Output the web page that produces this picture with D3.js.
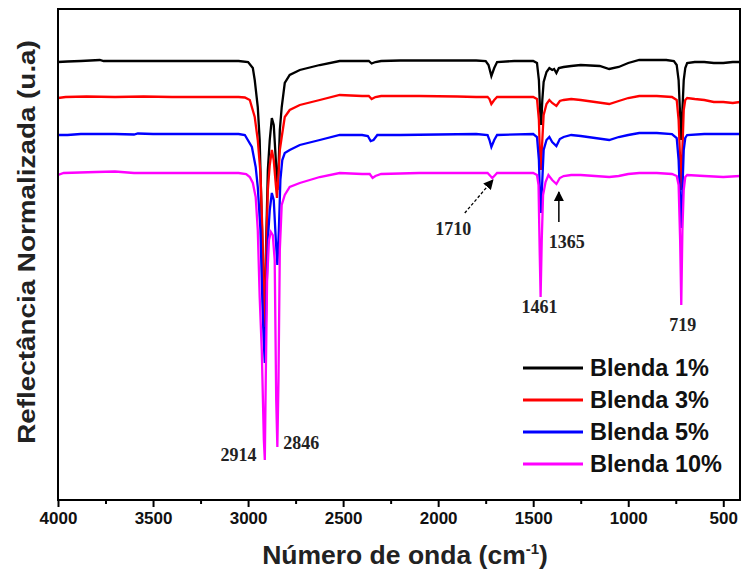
<!DOCTYPE html>
<html>
<head>
<meta charset="utf-8">
<script src="https://cdn.jsdelivr.net/npm/d3@7"></script>
<style>
  html, body { margin: 0; padding: 0; background: #fff; }
  svg { display: block; }
</style>
</head>
<body>
<svg id="chart" width="742" height="583"></svg>
<script>
// ---- Data (wavenumber cm-1, normalized reflectance in arbitrary units) ----
const seriesNames = ["Blenda 1%", "Blenda 3%", "Blenda 5%", "Blenda 10%"];
const seriesColors = ["#000000", "#ff0000", "#0000ff", "#ff00ff"];

const blenda1 = [
  [4000,87.6],[3950,87.7],[3880,87.8],[3780,88.0],[3760,87.8],[3600,87.8],[3400,87.8],[3200,87.8],[3050,87.8],[3000,87.6],
  [2975,86.4],[2965,84.0],[2949,78.6],[2939,72.0],[2928,56.0],[2917,40.0],[2912,34.0],[2907,48.0],[2896,66.0],[2886,72.0],
  [2875,76.4],[2865,75.0],[2854,68.0],[2846,62.0],[2840,66.0],[2833,74.0],[2823,78.6],[2807,83.4],[2781,85.0],[2728,86.0],
  [2623,87.0],[2518,87.8],[2400,87.8],[2365,87.8],[2350,87.3],[2330,87.6],[2300,87.8],[2200,87.9],[2000,87.9],[1900,87.9],
  [1800,87.9],[1750,87.8],[1735,87.0],[1720,84.8],[1705,86.4],[1690,87.6],[1600,87.8],[1500,87.8],[1480,87.4],[1470,84.0],
  [1464,78.0],[1458,75.0],[1452,80.0],[1445,83.6],[1430,85.6],[1415,86.4],[1400,86.0],[1390,86.2],[1378,85.4],[1365,86.4],
  [1340,86.6],[1300,86.8],[1250,87.0],[1150,86.8],[1100,86.2],[1050,86.6],[1000,87.4],[942,88.0],[850,88.0],[800,88.0],
  [760,87.8],[745,87.0],[735,84.0],[727,77.0],[721,72.0],[715,78.0],[708,84.0],[700,86.4],[690,87.4],[650,87.6],
  [600,87.6],[550,87.4],[500,87.4],[450,87.6],[412,87.6]
];
const blenda3 = [
  [4000,80.4],[3960,80.6],[3850,80.7],[3700,80.6],[3550,80.7],[3400,80.6],[3200,80.6],[3050,80.6],[3017,80.5],[2991,80.0],
  [2965,76.6],[2949,72.0],[2935,65.4],[2925,54.0],[2918,40.0],[2912,34.6],[2906,48.0],[2896,62.0],[2886,67.0],[2875,70.0],
  [2865,68.0],[2854,63.0],[2848,60.4],[2840,65.0],[2833,70.0],[2823,72.6],[2807,76.6],[2781,78.0],[2728,79.0],[2623,80.0],
  [2518,81.0],[2400,80.8],[2365,80.8],[2350,80.2],[2330,80.6],[2300,80.8],[2100,80.8],[1900,80.7],[1800,80.6],[1740,80.6],
  [1730,80.2],[1720,79.2],[1705,80.0],[1690,80.6],[1500,80.6],[1480,80.2],[1470,76.0],[1464,68.0],[1460,66.0],[1452,72.0],
  [1445,77.0],[1430,79.2],[1415,80.0],[1400,79.4],[1378,78.8],[1360,79.8],[1340,80.0],[1300,80.2],[1250,80.0],[1100,79.2],
  [1050,79.8],[1000,80.4],[942,80.8],[850,80.8],[770,80.6],[745,80.0],[735,76.0],[727,68.0],[721,62.0],[715,70.0],
  [708,78.0],[700,80.0],[690,80.4],[650,80.2],[600,80.0],[550,79.6],[500,79.6],[450,79.4],[412,79.6]
];
const blenda5 = [
  [4000,73.0],[3950,73.0],[3880,73.2],[3700,73.2],[3600,73.1],[3580,73.3],[3500,73.2],[3350,73.2],[3200,73.2],[3050,73.2],
  [3017,73.0],[2980,70.6],[2960,66.6],[2949,62.6],[2935,54.0],[2925,40.0],[2918,32.0],[2912,27.4],[2906,36.0],[2896,52.0],
  [2886,58.0],[2875,61.4],[2865,60.0],[2854,52.0],[2846,47.0],[2838,54.0],[2830,64.0],[2820,68.0],[2807,69.4],[2781,70.0],
  [2728,71.0],[2623,72.0],[2518,73.0],[2400,73.0],[2370,72.8],[2355,71.8],[2340,72.0],[2320,73.0],[2200,73.0],[2000,73.1],
  [1800,73.2],[1740,73.0],[1730,72.0],[1720,70.6],[1705,72.0],[1690,73.0],[1500,73.2],[1480,72.6],[1470,68.0],[1464,60.0],
  [1460,57.4],[1452,64.0],[1445,70.0],[1430,72.0],[1415,72.6],[1400,71.6],[1378,70.8],[1360,72.2],[1340,72.6],[1300,73.0],
  [1250,72.8],[1100,72.0],[1050,72.6],[1000,73.0],[942,73.4],[850,73.4],[770,73.2],[745,72.4],[735,68.0],[727,60.0],
  [721,54.4],[715,62.0],[708,70.0],[700,72.4],[690,73.0],[600,73.2],[500,73.2],[412,73.2]
];
const blenda10 = [
  [4000,65.0],[3970,65.4],[3800,65.6],[3700,65.7],[3600,65.4],[3400,65.4],[3200,65.4],[3050,65.4],[3010,65.2],[2991,64.6],
  [2975,63.4],[2960,60.6],[2949,54.0],[2939,40.6],[2928,30.0],[2917,12.0],[2912,8.0],[2907,24.0],[2900,44.0],[2890,52.0],
  [2880,53.6],[2870,53.0],[2860,48.0],[2852,20.0],[2846,10.6],[2840,24.0],[2833,50.0],[2823,59.0],[2807,61.0],[2781,62.6],
  [2728,63.4],[2623,64.6],[2518,65.4],[2400,65.2],[2360,65.2],[2345,64.4],[2330,64.8],[2300,65.2],[2100,65.4],[1900,65.4],
  [1800,65.4],[1740,65.4],[1725,64.8],[1715,64.4],[1700,65.0],[1690,65.4],[1500,65.4],[1480,65.0],[1472,63.0],[1466,50.0],
  [1461,40.6],[1455,52.0],[1448,61.0],[1435,63.6],[1420,65.0],[1400,64.0],[1378,63.2],[1360,64.4],[1340,64.8],[1300,65.0],
  [1250,65.0],[1100,64.6],[1050,64.8],[1000,65.2],[942,65.4],[850,65.4],[770,65.2],[745,64.8],[735,63.0],[727,52.0],
  [721,39.0],[715,54.0],[708,62.0],[700,64.6],[690,65.0],[600,64.8],[500,64.6],[412,64.8]
];
const seriesData = [blenda1, blenda3, blenda5, blenda10];

const xDomain = [4000, 412];
const yDomain = [0, 98.2];
const majorTicks = [4000, 3500, 3000, 2500, 2000, 1500, 1000, 500];
const minorTicks = [3750, 3250, 2750, 2250, 1750, 1250, 750];

// peak annotations
const peakLabels = ["2914", "2846", "1710", "1365", "1461", "719"];

// ---- Layout ----
const svg = d3.select("#chart");
const margin = { left: 58, right: 2, top: 9, bottom: 83 };
const W = 742, H = 583;
const x = d3.scaleLinear().domain(xDomain).range([margin.left, W - margin.right]);
const y = d3.scaleLinear().domain(yDomain).range([H - margin.bottom, margin.top]);

const defs = svg.append("defs");
defs.append("clipPath").attr("id", "clip")
  .append("rect").attr("x", margin.left).attr("y", margin.top)
  .attr("width", W - margin.right - margin.left).attr("height", H - margin.bottom - margin.top);

const line = d3.line().x(d => x(d[0])).y(d => y(d[1]));

const g = svg.append("g").attr("clip-path", "url(#clip)");
seriesData.forEach((s, i) => {
  g.append("path").datum(s)
    .attr("fill", "none")
    .attr("stroke", seriesColors[i])
    .attr("stroke-width", 2.3)
    .attr("stroke-linejoin", "miter")
    .attr("d", line);
});

// frame
svg.append("rect")
  .attr("x", margin.left).attr("y", margin.top)
  .attr("width", W - margin.right - margin.left).attr("height", H - margin.bottom - margin.top)
  .attr("fill", "none").attr("stroke", "#000").attr("stroke-width", 2);

// x axis
const xAxis = d3.axisBottom(x).tickValues(majorTicks).tickSize(7).tickPadding(5).tickFormat(d3.format("d"));
const ax = svg.append("g").attr("transform", `translate(0,${H - margin.bottom})`).call(xAxis);
ax.select(".domain").remove();
ax.selectAll(".tick line").attr("stroke-width", 2);
ax.selectAll(".tick text")
  .attr("font-family", "'Liberation Sans', Arial, sans-serif")
  .attr("font-weight", "bold").attr("font-size", 17).attr("fill", "#111");
const axm = svg.append("g").attr("transform", `translate(0,${H - margin.bottom})`)
  .call(d3.axisBottom(x).tickValues(minorTicks).tickSize(4).tickFormat(""));
axm.select(".domain").remove();
axm.selectAll(".tick line").attr("stroke-width", 2);

// axis titles
const xt = svg.append("text")
  .attr("x", 405).attr("y", 564)
  .attr("text-anchor", "middle")
  .attr("font-family", "'Liberation Sans', Arial, sans-serif")
  .attr("font-weight", "bold").attr("font-size", 26.5).attr("fill", "#222");
xt.append("tspan").text("Número de onda (cm");
xt.append("tspan").attr("font-size", 15).attr("dy", -10).text("-1");
xt.append("tspan").attr("dy", 10).text(")");

svg.append("text")
  .attr("transform", "translate(35,242) rotate(-90) scale(1.16,1)")
  .attr("text-anchor", "middle")
  .attr("font-family", "'Liberation Sans', Arial, sans-serif")
  .attr("font-weight", "bold").attr("font-size", 24).attr("fill", "#222")
  .text("Reflectância Normalizada (u.a)");

// peak labels
const serif = "'Liberation Serif', 'Times New Roman', serif";
const labelPos = [
  { t: peakLabels[0], w: 2914, v: 7.8, anchor: "end", dx: -8 },
  { t: peakLabels[1], w: 2846, v: 10.2, anchor: "start", dx: 6 },
  { t: peakLabels[2], w: 1710, v: 53.0, anchor: "middle", dx: -40 },
  { t: peakLabels[3], w: 1365, v: 50.4, anchor: "middle", dx: 8 },
  { t: peakLabels[4], w: 1461, v: 37.4, anchor: "middle", dx: -1 },
  { t: peakLabels[5], w: 719, v: 33.8, anchor: "middle", dx: 1 }
];
labelPos.forEach(p => {
  svg.append("text")
    .attr("x", x(p.w) + p.dx).attr("y", y(p.v))
    .attr("text-anchor", p.anchor)
    .attr("font-family", serif).attr("font-weight", "bold")
    .attr("font-size", 18).attr("fill", "#222")
    .text(p.t);
});

// arrows
defs.append("marker").attr("id", "ah").attr("viewBox", "0 0 10 10")
  .attr("refX", 9).attr("refY", 5).attr("markerWidth", 10).attr("markerHeight", 10)
  .attr("markerUnits", "userSpaceOnUse").attr("orient", "auto")
  .append("path").attr("d", "M0,0 L10,5 L0,10 Z").attr("fill", "#000");

svg.append("line")
  .attr("x1", x(1860)).attr("y1", y(57.4))
  .attr("x2", x(1712)).attr("y2", y(64.0))
  .attr("stroke", "#000").attr("stroke-width", 1.3).attr("stroke-dasharray", "3,2")
  .attr("marker-end", "url(#ah)");
svg.append("line")
  .attr("x1", x(1365)).attr("y1", y(55.6))
  .attr("x2", x(1365)).attr("y2", y(61.6))
  .attr("stroke", "#000").attr("stroke-width", 1.5)
  .attr("marker-end", "url(#ah)");

// legend
const legend = svg.append("g");
seriesNames.forEach((n, i) => {
  const ly = 368 + i * 32;
  legend.append("line").attr("x1", 523).attr("x2", 583).attr("y1", ly).attr("y2", ly)
    .attr("stroke", seriesColors[i]).attr("stroke-width", 3);
  legend.append("text").attr("x", 590).attr("y", ly + 8)
    .attr("font-family", "'Liberation Sans', Arial, sans-serif")
    .attr("font-weight", "bold").attr("font-size", 23.5).attr("fill", "#111")
    .text(n);
});
</script>
</body>
</html>
